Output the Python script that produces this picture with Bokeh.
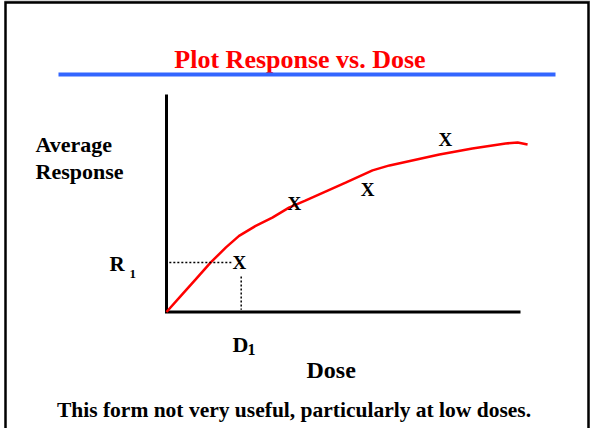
from bokeh.plotting import figure
from bokeh.models import Range1d
from bokeh.core.properties import value
from bokeh.embed import file_html
from bokeh.resources import INLINE

# ---- data (dose / response units) ----
curve_dose = [0.0, 0.45, 0.83, 1.25, 1.68, 2.05, 2.52, 2.99, 3.46, 3.92, 5.06, 5.82, 6.30,
              7.71, 8.64, 9.58, 9.92, 10.20]
curve_response = [0.0, 0.82, 1.51, 2.28, 2.97, 3.50, 3.96, 4.34, 4.80, 5.12, 5.95, 6.51, 6.74,
                  7.24, 7.52, 7.75, 7.79, 7.70]
obs_dose = [2.06, 3.61, 5.68, 7.88]
obs_response = [2.28, 5.00, 5.63, 7.93]
axis_dose_max = 10.0
axis_response_max = 10.0

title_text = "Plot Response vs. Dose"
ylabel_lines = ["Average", "Response"]
xlabel_text = "Dose"
note_text = "This form not very useful, particularly at low doses."

# ---- layout ----
W, H = 590, 428
ORIGIN_FX, ORIGIN_FY = 166.0, 311.5      # figure pixels of (0, 0)
PX_X, PX_Y = 35.4, 21.75                  # pixels per data unit

def dx(screen_x):
    return (screen_x - 8 - ORIGIN_FX) / PX_X

def dy(screen_y):
    return (ORIGIN_FY - (screen_y - 8)) / PX_Y

p = figure(width=W, height=H, output_backend="svg", toolbar_location=None,
           x_axis_location=None, y_axis_location=None, min_border=0)
p.x_range = Range1d(-ORIGIN_FX / PX_X, (W - ORIGIN_FX) / PX_X)
p.y_range = Range1d(-(H - ORIGIN_FY) / PX_Y, ORIGIN_FY / PX_Y)
p.grid.visible = False
p.outline_line_color = None
p.background_fill_color = "white"
p.border_fill_color = "white"

FONT = value("Liberation Serif")

# slide frame
p.line([dx(12), dx(598)], [dy(8.5), dy(8.5)], line_color="#9a9a9a", line_width=1.5)
p.line([dx(13), dx(13), dx(596), dx(596)], [dy(450), dy(10), dy(10), dy(450)],
       line_color="black", line_width=2.5, line_join="miter")

# title + rule
p.text(x=[dx(307.5)], y=[dy(67)], text=[title_text], text_font=FONT, text_font_style="bold",
       text_font_size="26px", text_color="#ff0000", text_align="center", text_baseline="alphabetic")
p.line([dx(66), dx(563)], [dy(82), dy(82)], line_color="#3366ff", line_width=4)

# axes
p.line([0, 0, axis_dose_max], [axis_response_max, 0, 0], line_color="black",
       line_width=3, line_join="miter")

# curve
p.line(curve_dose, curve_response, line_color="#ff0000", line_width=2.5)

# dotted guides for first observation
d1, r1 = obs_dose[0], obs_response[0]
p.line([0.08, d1 - 0.2], [r1, r1], line_color="black", line_width=1.5, line_dash="2 2")
p.line([d1 + 0.05, d1 + 0.05], [r1 - 0.65, 0.1], line_color="black", line_width=1.5, line_dash="2 2")

# observations
p.text(x=obs_dose, y=obs_response, text=["X"] * len(obs_dose), text_font=FONT,
       text_font_style="bold", text_font_size="19px", text_color="black",
       text_align="center", text_baseline="middle")

# labels
p.text(x=[dx(43), dx(43)], y=[dy(152), dy(179)], text=ylabel_lines, text_font=FONT,
       text_font_style="bold", text_font_size="22px", text_color="black",
       text_align="left", text_baseline="alphabetic")
p.text(x=[dx(314)], y=[dy(377)], text=[xlabel_text], text_font=FONT, text_font_style="bold",
       text_font_size="24px", text_color="black", text_align="left", text_baseline="alphabetic")
p.text(x=[dx(301.5)], y=[dy(417)], text=[note_text], text_font=FONT, text_font_style="bold",
       text_font_size="21.5px", text_color="black", text_align="center", text_baseline="alphabetic")

p.text(x=[dx(117)], y=[dy(271)], text=["R"], text_font=FONT, text_font_style="bold",
       text_font_size="21px", text_color="black", text_align="left", text_baseline="alphabetic")
p.text(x=[dx(137)], y=[dy(281)], text=["1"], text_font=FONT, text_font_style="bold",
       text_font_size="13px", text_color="black", text_align="left", text_baseline="alphabetic")
p.text(x=[dx(240)], y=[dy(352)], text=["D"], text_font=FONT, text_font_style="bold",
       text_font_size="22px", text_color="black", text_align="left", text_baseline="alphabetic")
p.text(x=[dx(255)], y=[dy(357)], text=["1"], text_font=FONT, text_font_style="bold",
       text_font_size="16px", text_color="black", text_align="left", text_baseline="alphabetic")

open("out.html", "w").write(file_html(p, INLINE))
